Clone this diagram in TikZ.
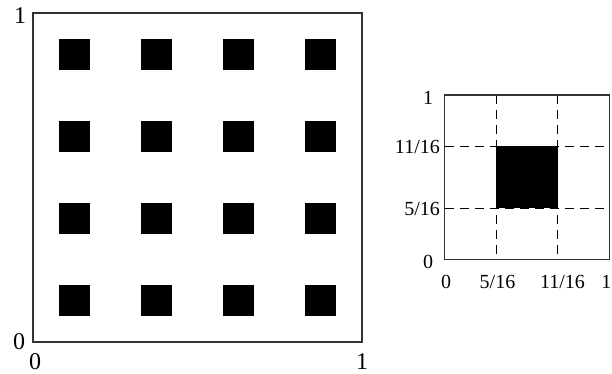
\documentclass[tikz,border=0pt]{standalone}
\usepackage{fontspec}
\setmainfont{Liberation Serif}
\begin{document}
\begin{tikzpicture}[x=1pt,y=-1pt,
  frame/.style={draw=black!80,line width=1.4pt},
  blk/.style={fill=black},
  guide/.style={draw=black,line width=0.9pt,dash pattern=on 9pt off 6pt},
  biglab/.style={font=\fontsize{24}{24}\selectfont,inner sep=0pt},
  smalllab/.style={font=\fontsize{20}{20}\selectfont,inner sep=0pt}]
\useasboundingbox (0,0) rectangle (612,374);
% left figure
\def\Lx{33}\def\Ly{13}\def\Ls{329}
\foreach \i in {0,1,2,3}{
  \foreach \j in {0,1,2,3}{
    \fill[blk] ({\Lx+\Ls/4*\i+\Ls/4*5/16},{\Ly+\Ls/4*\j+\Ls/4*5/16}) rectangle ({\Lx+\Ls/4*\i+\Ls/4*11/16},{\Ly+\Ls/4*\j+\Ls/4*11/16});
  }
}
\draw[frame] (\Lx,\Ly) rectangle ({\Lx+\Ls},{\Ly+\Ls});
\node[biglab] (ly1) at (20,16) {1};
\node[biglab] (ly0) at (19,342) {0};
\node[biglab] (lx0) at (35,362) {0};
\node[biglab] (lx1) at (362,362) {1};
% right figure
\def\Rx{444.7}\def\Ry{95}\def\Rs{164.6}
\fill[blk] ({\Rx+\Rs*5/16},{\Ry+\Rs*5/16}) rectangle ({\Rx+\Rs*11/16},{\Ry+\Rs*11/16});
\draw[guide] ({\Rx+\Rs*5/16},\Ry) -- ({\Rx+\Rs*5/16},{\Ry+\Rs});
\draw[guide] ({\Rx+\Rs*11/16},\Ry) -- ({\Rx+\Rs*11/16},{\Ry+\Rs});
\draw[guide] (\Rx,{\Ry+\Rs*5/16}) -- ({\Rx+\Rs},{\Ry+\Rs*5/16});
\draw[guide] (\Rx,{\Ry+\Rs*11/16}) -- ({\Rx+\Rs},{\Ry+\Rs*11/16});
\draw[frame] (\Rx,\Ry) rectangle ({\Rx+\Rs},{\Ry+\Rs});
\node[smalllab] (ry1) at (428,98) {1};
\node[smalllab,anchor=east] (ry11) at (440,147) {11/16};
\node[smalllab,anchor=east] (ry5) at (440,209) {5/16};
\node[smalllab] (ry0) at (428,262) {0};
\node[smalllab] (rx0) at (446,282) {0};
\node[smalllab] (rx5) at (497.5,282) {5/16};
\node[smalllab] (rx11) at (562.5,282) {11/16};
\node[smalllab,anchor=east] (rx1) at (611.5,282) {1};
\end{tikzpicture}
\end{document}
